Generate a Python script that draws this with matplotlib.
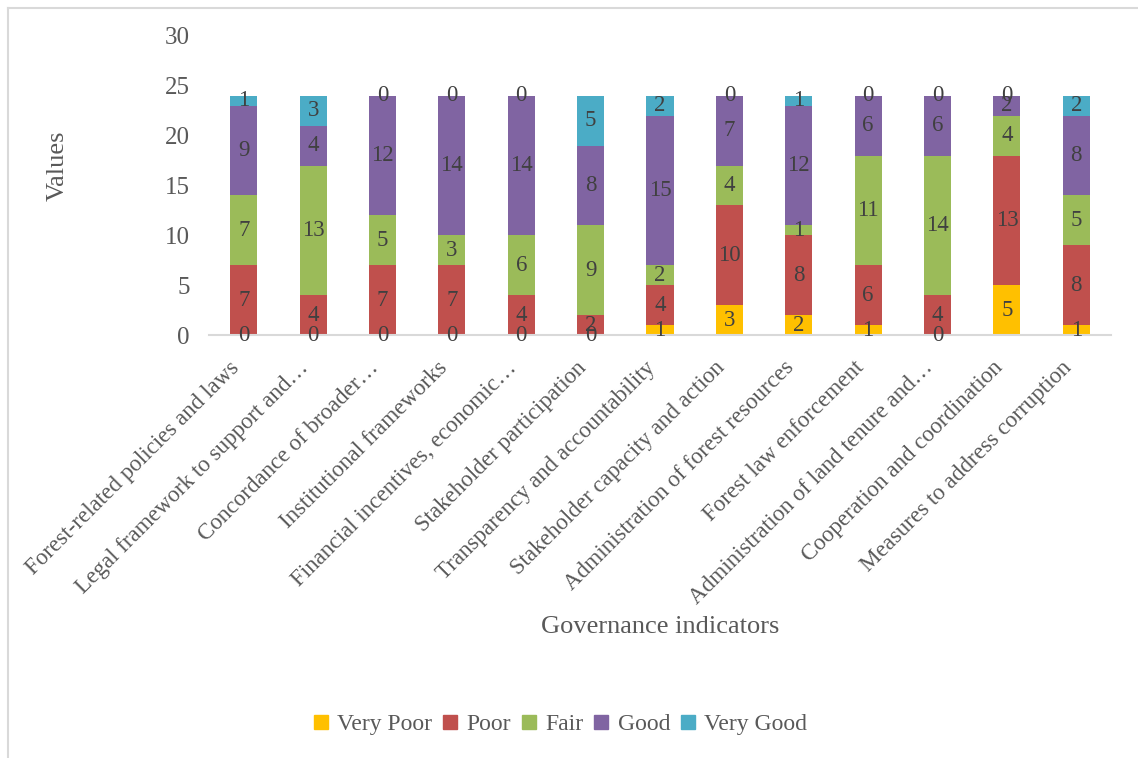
import matplotlib.pyplot as plt
from matplotlib.lines import Line2D
import numpy as np

plt.rcParams['font.family'] = ['Liberation Serif', 'DejaVu Serif']

indicators = ['Forest-related policies and laws',
              'Legal framework to support and\u2026',
              'Concordance of broader\u2026',
              'Institutional frameworks',
              'Financial incentives, economic\u2026',
              'Stakeholder participation',
              'Transparency and accountability',
              'Stakeholder capacity and action',
              'Administration of forest resources',
              'Forest law enforcement',
              'Administration of land tenure and\u2026',
              'Cooperation and coordination',
              'Measures to address corruption']

very_poor = [0, 0, 0, 0, 0, 0, 1, 3, 2, 1, 0, 5, 1]
poor = [7, 4, 7, 7, 4, 2, 4, 10, 8, 6, 4, 13, 8]
fair = [7, 13, 5, 3, 6, 9, 2, 4, 1, 11, 14, 4, 5]
good = [9, 4, 12, 14, 14, 8, 15, 7, 12, 6, 6, 2, 8]
very_good = [1, 3, 0, 0, 0, 5, 2, 0, 1, 0, 0, 0, 2]

series = [('Very Poor', very_poor, '#FFC000'),
          ('Poor', poor, '#C0504D'),
          ('Fair', fair, '#9BBB59'),
          ('Good', good, '#8064A2'),
          ('Very Good', very_good, '#4BACC6')]

grey = '#595959'
fig = plt.figure(figsize=(11.38, 7.58), dpi=100)
ax = fig.add_axes([209 / 1138, 1 - 335 / 758, 902 / 1138, 299 / 758])

x = np.arange(len(indicators))
bottom = np.zeros(len(indicators))
for name, vals, col in series:
    vals = np.array(vals, dtype=float)
    ax.bar(x, vals, 0.39, bottom=bottom, color=col, label=name)
    for xi, b, v in zip(x, bottom, vals):
        ax.text(xi, b + v / 2, f'{int(v)}', ha='center', va='center',
                fontsize=16.5, color='#404040')
    bottom += vals

ax.set_xlim(-0.5, len(indicators) - 0.5)
ax.set_ylim(0, 30)
ax.set_yticks(range(0, 31, 5))
ax.set_xticks(x)
ax.set_xticklabels(indicators, rotation=45, ha='right', va='top',
                   fontsize=16.6, color=grey)
ax.tick_params(axis='y', length=0, labelsize=18, labelcolor=grey, pad=14)
ax.tick_params(axis='x', length=0, pad=16)
for s in ['top', 'right', 'left']:
    ax.spines[s].set_visible(False)
ax.spines['bottom'].set_color('#d9d9d9')
ax.spines['bottom'].set_linewidth(1.5)

fig.text(58 / 1138, 1 - 166 / 758, 'Values', rotation=90, ha='center',
         va='center', fontsize=19, color=grey)
fig.text(660 / 1138, 1 - 627 / 758, 'Governance indicators', ha='center',
         va='center', fontsize=19, color=grey)

handles = [Line2D([], [], marker='s', linestyle='', markersize=10,
                  color=col) for _, _, col in series]
fig.legend(handles, [n for n, _, _ in series], loc='center',
           bbox_to_anchor=(560 / 1138, 1 - 724 / 758), ncol=5, frameon=False,
           fontsize=17, labelcolor=grey, handlelength=0.7,
           handletextpad=0.35, columnspacing=0.4)

# light frame along the left and top edges
fig.add_artist(Line2D([7.5 / 1138, 7.5 / 1138], [0, 1 - 7.5 / 758],
                      color='#d9d9d9', lw=1.5))
fig.add_artist(Line2D([7.5 / 1138, 1], [1 - 7.5 / 758, 1 - 7.5 / 758],
                      color='#d9d9d9', lw=1.5))

fig.savefig('out.png', dpi=100)
